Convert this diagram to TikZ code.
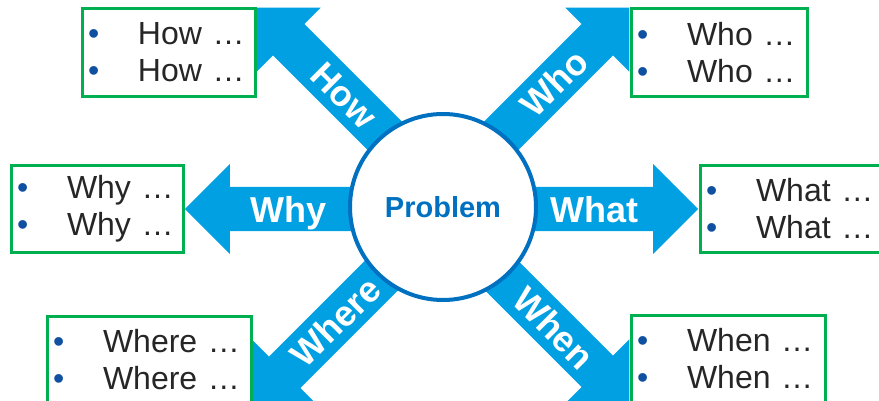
\documentclass[tikz,border=0pt]{standalone}
\usepackage{fontspec}
\setmainfont{Liberation Sans}
\usetikzlibrary{shapes.arrows,positioning,calc}
\definecolor{arrowblue}{RGB}{0,160,227}
\definecolor{ringblue}{RGB}{0,112,192}
\definecolor{dotblue}{RGB}{16,80,160}
\definecolor{boxgreen}{RGB}{0,176,80}
\definecolor{inkgray}{RGB}{38,38,38}
\pgfdeclarelayer{background}
\pgfsetlayers{background,main}
% one bullet line inside a box
\newcommand{\bul}[1]{\makebox[50pt][l]{\textcolor{dotblue}{\textbullet}}#1}

\begin{document}
\begin{tikzpicture}[x=1pt, y=1pt]
\tikzset{hub/.style={circle, draw=ringblue, line width=4pt, fill=white, minimum size=186pt, text=ringblue, font=\fontsize{29}{34}\selectfont\bfseries}}
\tikzset{listbox/.style={draw=boxgreen, line width=3pt, fill=white, align=left, inner xsep=6pt, inner ysep=0pt, minimum height=87pt, text width=#1, text=inkgray, font=\fontsize{32}{37}\selectfont}}
\tikzset{flow/.style={single arrow, fill=arrowblue, single arrow head extend=23pt, single arrow tip angle=90, minimum height=#1, text height=26pt, text depth=0pt, inner ysep=9pt, inner xsep=0pt, anchor=tip}}
\tikzset{flowtext/.style={text=white, text height=26pt, text depth=0pt, inner sep=0pt, font=\fontsize{36}{40}\selectfont\bfseries}}
\useasboundingbox (0,0) rectangle (879,400);
\node[hub] (problem) at (443,193) {Problem};
\node[listbox=161pt] (howbox) at (168.5,347.5) {\bul{How …}\\\bul{How …}};
\node[listbox=164pt] (whobox) at (719,347.5) {\bul{Who …}\\\bul{Who …}};
\node[listbox=160pt] (whybox) at (97,191) {\bul{Why …}\\\bul{Why …}};
\node[listbox=178pt] (whatbox) at (795,191) {\bul{What …}\\\bul{What …}};
\node[listbox=192pt] (wherebox) at (149,40.5) {\bul{Where …}\\\bul{Where …}};
\node[listbox=182pt] (whenbox) at (728,41.5) {\bul{When …}\\\bul{When …}};
% arrows run from under the hub to the boxes
\begin{pgfonlayer}{background}
\node[flow=226pt, rotate=-45, shape border rotate=180] (howarrow) at (howbox.north east) {};
\node[flow=226pt, rotate=45] (whoarrow) at (whobox.north west) {};
\node[flow=208pt, shape border rotate=180] (whyarrow) at (whybox.east) {};
\node[flow=208pt] (whatarrow) at (whatbox.west) {};
\node[flow=226pt, rotate=45, shape border rotate=180] (wherearrow) at (wherebox.south east) {};
\node[flow=226pt, rotate=-45] (whenarrow) at (whenbox.south west) {};
\end{pgfonlayer}
% labels on the arrow shafts
\node[flowtext, rotate=-45] (howlabel) at ($(howarrow.tip)!124pt!(howarrow.tail)$) {How};
\node[flowtext, rotate=45] (wholabel) at ($(whoarrow.tip)!107pt!(whoarrow.tail)$) {Who};
\node[flowtext] (whylabel) at ($(whyarrow.tip)!104pt!(whyarrow.tail)$) {Why};
\node[flowtext] (whatlabel) at ($(whatarrow.tip)!104pt!(whatarrow.tail)$) {What};
\node[flowtext, rotate=45] (wherelabel) at ($(wherearrow.tip)!117pt!(wherearrow.tail)$) {Where};
\node[flowtext, rotate=-45] (whenlabel) at ($(whenarrow.tip)!107pt!(whenarrow.tail)$) {When};
\end{tikzpicture}
\end{document}
